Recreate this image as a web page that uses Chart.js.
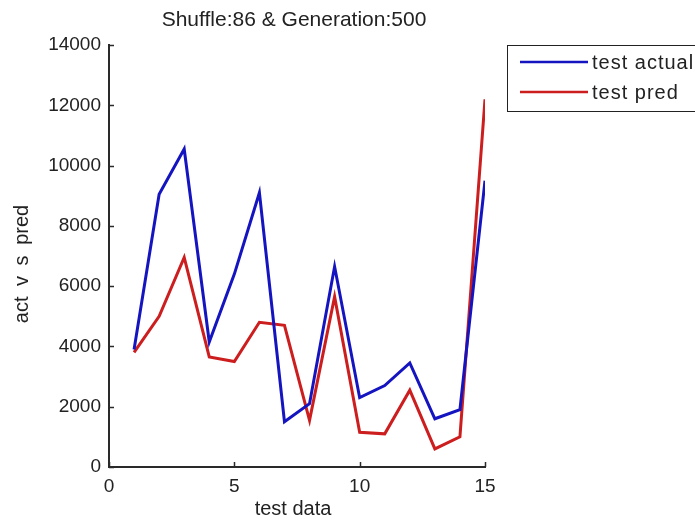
<!DOCTYPE html>
<html>
<head>
<meta charset="utf-8">
<script src="https://cdn.jsdelivr.net/npm/chart.js@4.4.1/dist/chart.umd.min.js"></script>
<style>
  html, body { margin: 0; padding: 0; background: #ffffff; }
  #wrap { width: 695px; height: 526px; position: relative; }
</style>
</head>
<body>
<div id="wrap"><canvas id="chart" width="695" height="526"></canvas></div>
<script>
var chartTitle = 'Shuffle:86 & Generation:500';
var xTitle = 'test data';
var yTitle = 'act v s pred';
var xValues = [1, 2, 3, 4, 5, 6, 7, 8, 9, 10, 11, 12, 13, 14, 15];
var actualValues = [3900, 9050, 10550, 4150, 6400, 9100, 1500, 2100, 6650, 2300, 2700, 3450, 1600, 1900, 9500];
var predValues = [3800, 5000, 6950, 3650, 3500, 4800, 4700, 1550, 5650, 1150, 1100, 2550, 600, 1000, 12200];
var xTicks = [0, 5, 10, 15];
var yTicks = [0, 2000, 4000, 6000, 8000, 10000, 12000, 14000];

var FONT = "'Liberation Sans', Arial, sans-serif";
var AXIS_COLOR = '#2a2a2a';

function toPoints(values) {
  return xValues.map(function (x, i) {
    return { x: x, y: values[i] };
  });
}

// MATLAB style ticks point into the plot
var innerTicks = {
  id: 'innerTicks',
  afterDraw: function (chart) {
    var ctx = chart.ctx;
    var area = chart.chartArea;
    var xs = chart.scales.x;
    var ys = chart.scales.y;
    ctx.save();
    ctx.strokeStyle = AXIS_COLOR;
    ctx.lineWidth = 1.5;
    ctx.beginPath();
    xTicks.forEach(function (v) {
      var px = Math.round(xs.getPixelForValue(v)) + 0.5;
      ctx.moveTo(px, area.bottom);
      ctx.lineTo(px, area.bottom - 5);
    });
    yTicks.forEach(function (v) {
      var py = Math.round(ys.getPixelForValue(v)) + 0.5;
      ctx.moveTo(area.left, py);
      ctx.lineTo(area.left + 5, py);
    });
    ctx.stroke();
    ctx.restore();
  }
};

var titles = {
  id: 'titles',
  afterDraw: function (chart) {
    var ctx = chart.ctx;
    var area = chart.chartArea;
    var cx = (area.left + area.right) / 2;
    var cy = (area.top + area.bottom) / 2;
    ctx.save();
    ctx.fillStyle = '#222';
    ctx.textAlign = 'center';
    ctx.textBaseline = 'middle';
    ctx.font = '21px ' + FONT;
    ctx.fillText(chartTitle, cx - 3, 20);
    ctx.font = '20px ' + FONT;
    ctx.fillText(xTitle, cx - 4, 509);

    ctx.translate(22, cy + 8);
    ctx.rotate(-Math.PI / 2);
    if ('wordSpacing' in ctx) {
      ctx.wordSpacing = '5px';
    }
    ctx.fillText(yTitle, 0, 0);
    ctx.restore();
  }
};

var boxLegend = {
  id: 'boxLegend',
  afterDraw: function (chart) {
    var ctx = chart.ctx;
    var left = 507;
    var top = 45;
    ctx.save();
    ctx.fillStyle = '#ffffff';
    ctx.fillRect(left, top, 200, 66);
    ctx.strokeStyle = '#222';
    ctx.lineWidth = 1;
    ctx.strokeRect(left + 0.5, top + 0.5, 200, 66);
    ctx.font = '20px ' + FONT;
    ctx.textBaseline = 'middle';
    ctx.textAlign = 'left';
    if ('letterSpacing' in ctx) {
      ctx.letterSpacing = '1px';
    }
    chart.data.datasets.forEach(function (ds, i) {
      var y = top + 17 + i * 30;
      ctx.strokeStyle = ds.borderColor;
      ctx.lineWidth = 2.5;
      ctx.beginPath();
      ctx.moveTo(520, y);
      ctx.lineTo(588, y);
      ctx.stroke();
      ctx.fillStyle = '#222';
      ctx.fillText(ds.label, 592, y + 1);
    });
    ctx.restore();
  }
};

new Chart(document.getElementById('chart'), {
  type: 'line',
  data: {
    datasets: [{
      label: 'test actual',
      data: toPoints(actualValues),
      borderColor: '#1414c0',
      borderWidth: 3,
      pointRadius: 0,
      tension: 0,
      fill: false
    }, {
      label: 'test pred',
      data: toPoints(predValues),
      borderColor: '#cc1e1e',
      borderWidth: 3,
      pointRadius: 0,
      tension: 0,
      fill: false
    }]
  },
  options: {
    responsive: false,
    animation: false,
    layout: { padding: { top: 45, right: 210, left: 0, bottom: 0 } },
    plugins: {
      legend: { display: false },
      title: { display: false },
      tooltip: { enabled: false }
    },
    scales: {
      x: {
        type: 'linear',
        min: 0,
        max: 15,
        afterFit: function (scale) { scale.height = 59; },
        afterBuildTicks: function (scale) {
          scale.ticks = xTicks.map(function (v) { return { value: v }; });
        },
        grid: { drawOnChartArea: false, drawTicks: false },
        border: { display: true, color: AXIS_COLOR, width: 2 },
        ticks: {
          color: '#222',
          padding: 8,
          maxRotation: 0,
          font: { family: FONT, size: 19 }
        }
      },
      y: {
        min: 0,
        max: 14000,
        afterFit: function (scale) { scale.width = 109; },
        afterBuildTicks: function (scale) {
          scale.ticks = yTicks.map(function (v) { return { value: v }; });
        },
        grid: { drawOnChartArea: false, drawTicks: false },
        border: { display: true, color: AXIS_COLOR, width: 2 },
        ticks: {
          color: '#222',
          padding: 8,
          font: { family: FONT, size: 19 },
          callback: function (v) { return String(v); }
        }
      }
    }
  },
  plugins: [innerTicks, titles, boxLegend]
});
</script>
</body>
</html>
